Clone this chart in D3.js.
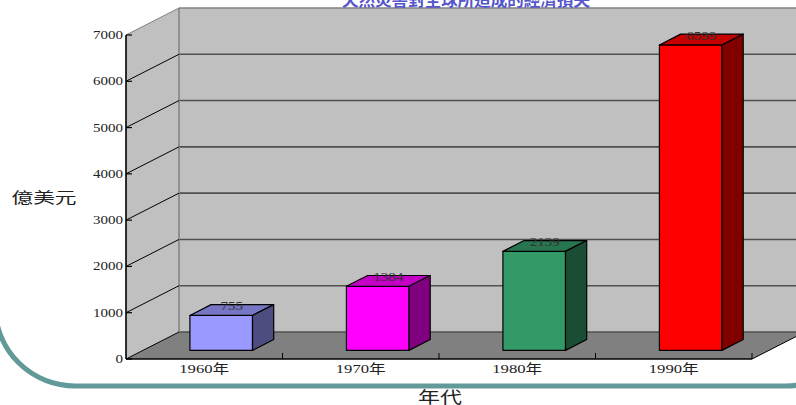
<!DOCTYPE html>
<html>
<head>
<meta charset="utf-8">
<script src="https://cdn.jsdelivr.net/npm/d3@7"></script>
<style>
  body { margin: 0; background: #fff; }
  svg { display: block; }
  text { font-family: "Liberation Serif", "Noto Sans CJK TC", serif; }
</style>
</head>
<body>
<svg width="796" height="405"></svg>
<script>
var decades = ["1960年", "1970年", "1980年", "1990年"];
var losses = [755, 1384, 2139, 6599];
var barColors = ["#9999ff", "#ff00ff", "#339966", "#ff0000"];
var yTicks = [0, 1000, 2000, 3000, 4000, 5000, 6000, 7000];
var title = "天然災害對全球所造成的經濟損失";
var yTitle = "億美元";
var xTitle = "年代";

var svg = d3.select("svg");

var plotLeft = 126, plotRight = 752, plotBottom = 359, plotTop = 35;
var depthX = 53, depthY = -27;

var x = d3.scaleBand().domain(decades).range([plotLeft, plotRight]);
var y = d3.scaleLinear().domain([0, 7000]).range([plotBottom, plotTop]);

function pts(a) { return a.map(function(p) { return p.join(","); }).join(" "); }

// teal frame line
svg.append("rect")
    .attr("x", -5).attr("y", -120)
    .attr("width", 871).attr("height", 506)
    .attr("rx", 80).attr("ry", 80)
    .attr("fill", "none")
    .attr("stroke", "#629999")
    .attr("stroke-width", 5);

var g = svg.append("g");

// walls and floor
g.append("polygon")
    .attr("points", pts([[plotLeft, y(7000)], [plotLeft + depthX, y(7000) + depthY], [plotLeft + depthX, y(0) + depthY], [plotLeft, y(0)]]))
    .attr("fill", "#c0c0c0");
g.append("polygon")
    .attr("points", pts([[plotLeft + depthX, y(7000) + depthY], [plotRight + depthX, y(7000) + depthY], [plotRight + depthX, y(0) + depthY], [plotLeft + depthX, y(0) + depthY]]))
    .attr("fill", "#c0c0c0");
g.append("polygon")
    .attr("points", pts([[plotLeft, y(0)], [plotRight, y(0)], [plotRight + depthX, y(0) + depthY], [plotLeft + depthX, y(0) + depthY]]))
    .attr("fill", "#808080");

// grid lines
g.selectAll(".backGrid")
    .data(yTicks)
  .enter().append("line")
    .attr("x1", plotLeft + depthX).attr("x2", plotRight + depthX)
    .attr("y1", function(d) { return y(d) + depthY; })
    .attr("y2", function(d) { return y(d) + depthY; })
    .attr("stroke", function(d) { return d === 7000 ? "#808080" : "#505050"; })
    .attr("stroke-width", 1.6);

g.append("line")
    .attr("x1", plotLeft + depthX).attr("x2", plotLeft + depthX)
    .attr("y1", y(7000) + depthY).attr("y2", y(0) + depthY)
    .attr("stroke", "#808080").attr("stroke-width", 1.5);

g.selectAll(".sideGrid")
    .data(yTicks)
  .enter().append("line")
    .attr("x1", plotLeft).attr("x2", plotLeft + depthX)
    .attr("y1", function(d) { return y(d); })
    .attr("y2", function(d) { return y(d) + depthY; })
    .attr("stroke", function(d) { return d === 7000 ? "#808080" : "#000"; })
    .attr("stroke-width", 1);

// axes
g.append("line")
    .attr("x1", plotLeft).attr("x2", plotLeft).attr("y1", y(7000)).attr("y2", y(0))
    .attr("stroke", "#000").attr("stroke-width", 1.6);
g.append("line")
    .attr("x1", plotLeft).attr("x2", plotRight).attr("y1", y(0)).attr("y2", y(0))
    .attr("stroke", "#000").attr("stroke-width", 1.6);
g.append("line")
    .attr("x1", plotRight).attr("x2", plotRight + depthX).attr("y1", y(0)).attr("y2", y(0) + depthY)
    .attr("stroke", "#000").attr("stroke-width", 1);

g.selectAll(".yTick")
    .data(yTicks)
  .enter().append("line")
    .attr("x1", plotLeft).attr("x2", plotLeft + 6)
    .attr("y1", function(d) { return y(d); })
    .attr("y2", function(d) { return y(d); })
    .attr("stroke", "#000").attr("stroke-width", 1.2);

g.selectAll(".yLabel")
    .data(yTicks)
  .enter().append("text")
    .attr("x", plotLeft - 3)
    .attr("y", function(d) { return y(d) + 4; })
    .attr("text-anchor", "end")
    .attr("textLength", function(d) { return String(d).length * 7.5; })
    .attr("lengthAdjust", "spacingAndGlyphs")
    .style("font-size", "12px")
    .attr("fill", "#222")
    .text(function(d) { return d; });

g.selectAll(".xTick")
    .data(decades.slice(1).map(function(d) { return x(d); }).concat([plotRight]))
  .enter().append("line")
    .attr("x1", function(d) { return d; }).attr("x2", function(d) { return d; })
    .attr("y1", y(0)).attr("y2", y(0) - 6)
    .attr("stroke", "#000").attr("stroke-width", 1);

g.selectAll(".xLabel")
    .data(decades)
  .enter().append("text")
    .attr("x", function(d) { return x(d) + x.bandwidth() / 2; })
    .attr("y", 373)
    .attr("text-anchor", "middle")
    .attr("textLength", 50)
    .attr("lengthAdjust", "spacingAndGlyphs")
    .style("font-size", "13px")
    .attr("fill", "#222")
    .text(function(d) { return d; });

// 3d bars
var f0 = 0.32, f1 = 0.72;
var bars = decades.map(function(d, i) {
  var x0 = x(d) + x.bandwidth() * 0.3 + depthX * f0;
  var w = x.bandwidth() * 0.4;
  var yb = y(0) + depthY * f0;
  var yt = y(losses[i]) + depthY * f0;
  var ox = depthX * (f1 - f0), oy = depthY * (f1 - f0);
  return {x0: x0, x1: x0 + w, yb: yb, yt: yt, ox: ox, oy: oy, value: losses[i], color: d3.color(barColors[i])};
});

var bar = g.selectAll(".bar")
    .data(bars)
  .enter().append("g")
    .attr("class", "bar")
    .attr("stroke", "#000")
    .attr("stroke-width", 1.2)
    .attr("stroke-linejoin", "round");

bar.append("polygon")
    .attr("points", function(b) { return pts([[b.x0, b.yt], [b.x1, b.yt], [b.x1, b.yb], [b.x0, b.yb]]); })
    .attr("fill", function(b) { return b.color.formatHex(); });
bar.append("polygon")
    .attr("points", function(b) { return pts([[b.x0, b.yt], [b.x0 + b.ox, b.yt + b.oy], [b.x1 + b.ox, b.yt + b.oy], [b.x1, b.yt]]); })
    .attr("fill", function(b) { var c = b.color; return d3.rgb(c.r * 0.77, c.g * 0.77, c.b * 0.77).formatHex(); });
bar.append("polygon")
    .attr("points", function(b) { return pts([[b.x1, b.yt], [b.x1 + b.ox, b.yt + b.oy], [b.x1 + b.ox, b.yb + b.oy], [b.x1, b.yb]]); })
    .attr("fill", function(b) { var c = b.color; return d3.rgb(c.r * 0.5, c.g * 0.5, c.b * 0.5).formatHex(); });

g.selectAll(".valueLabel")
    .data(bars)
  .enter().append("text")
    .attr("x", function(d) { return (d.x0 + d.x1) / 2 + d.ox / 2; })
    .attr("y", function(d) { return d.yt + d.oy / 2; })
    .attr("text-anchor", "middle")
    .attr("textLength", function(d) { return String(d.value).length * 7.5; })
    .attr("lengthAdjust", "spacingAndGlyphs")
    .style("font-size", "12px")
    .attr("fill", "#333")
    .text(function(d) { return d.value; });

// titles
svg.append("text")
    .attr("x", 466).attr("y", 6)
    .attr("text-anchor", "middle")
    .attr("textLength", 248)
    .attr("lengthAdjust", "spacingAndGlyphs")
    .style("font-size", "16.5px")
    .style("font-weight", "bold")
    .style("font-family", "'Noto Sans CJK TC', sans-serif")
    .attr("fill", "#5555cc")
    .text(title);

svg.append("text")
    .attr("x", 44).attr("y", 203)
    .attr("text-anchor", "middle")
    .attr("textLength", 65)
    .attr("lengthAdjust", "spacingAndGlyphs")
    .style("font-size", "15px")
    .attr("fill", "#222")
    .text(yTitle);

svg.append("text")
    .attr("x", 440).attr("y", 403)
    .attr("text-anchor", "middle")
    .attr("textLength", 44)
    .attr("lengthAdjust", "spacingAndGlyphs")
    .style("font-size", "16px")
    .attr("fill", "#222")
    .text(xTitle);
</script>
</body>
</html>
